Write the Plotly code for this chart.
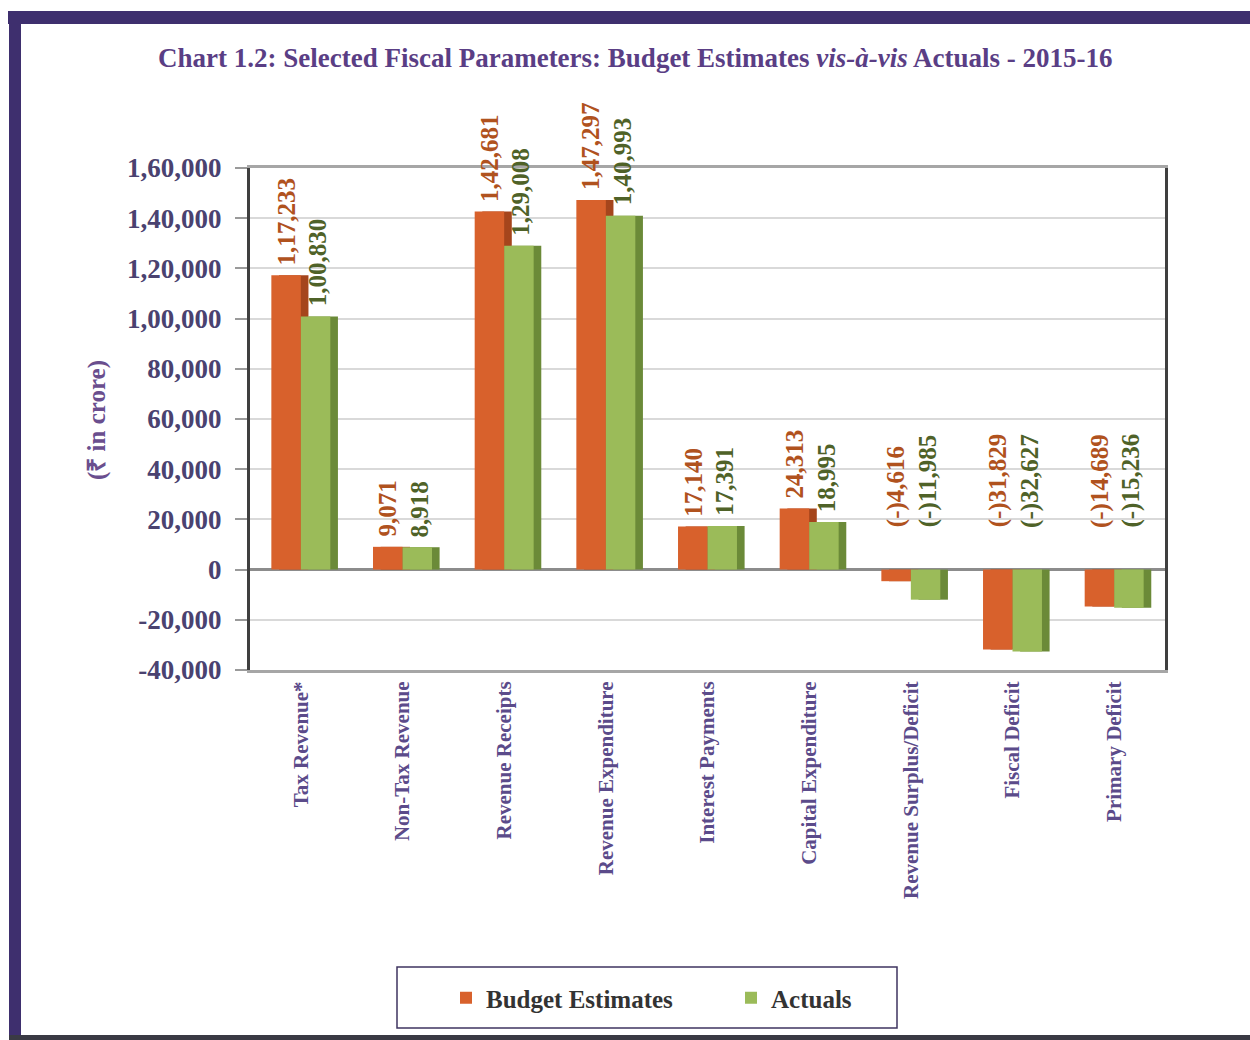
import plotly.graph_objects as go

# ---- data (₹ in crore) ----
categories = [
    "Tax Revenue*", "Non-Tax Revenue", "Revenue Receipts", "Revenue Expenditure",
    "Interest Payments", "Capital Expenditure", "Revenue Surplus/Deficit",
    "Fiscal Deficit", "Primary Deficit",
]
budget_estimates = [117233, 9071, 142681, 147297, 17140, 24313, -4616, -31829, -14689]
actuals = [100830, 8918, 129008, 140993, 17391, 18995, -11985, -32627, -15236]
y_tick_values = [-40000, -20000, 0, 20000, 40000, 60000, 80000, 100000, 120000, 140000, 160000]

# ---- page geometry (px) ----
W, H = 1250, 1040
L, R, T, B = 250, 85, 168, 370
PW, PH = W - L - R, H - T - B

BUDGET_FACE, BUDGET_SIDE, BUDGET_TEXT = "#D8612C", "#A5451C", "#B0521E"
ACTUAL_FACE, ACTUAL_SIDE, ACTUAL_TEXT = "#9BBB59", "#6B8A38", "#4F6228"
SERIF = "Liberation Serif, Times New Roman, serif"


def indian(n):
    """Group digits the Indian way: 1,47,297."""
    s = str(abs(int(n)))
    if len(s) > 3:
        head, tail = s[:-3], s[-3:]
        parts = []
        while len(head) > 2:
            parts.insert(0, head[-2:])
            head = head[:-2]
        if head:
            parts.insert(0, head)
        s = ",".join(parts) + "," + tail
    return s


def value_label(n):
    return "(-)" + indian(n) if n < 0 else indian(n)


def tick_label(n):
    return ("-" if n < 0 else "") + indian(n)


def px_x(px):
    return (px - L) / PW


def px_y(py):
    return (H - B - py) / PH


BAR_W = 0.29
DEPTH = 0.075

fig = go.Figure()
# darker side faces sit behind each front face to give the bars some depth
for name, vals, face, side, off in [
    ("Budget Estimates", budget_estimates, BUDGET_FACE, BUDGET_SIDE, -BAR_W),
    ("Actuals", actuals, ACTUAL_FACE, ACTUAL_SIDE, 0.0),
]:
    fig.add_trace(go.Bar(
        x=categories, y=vals, width=BAR_W, offset=off + DEPTH,
        marker=dict(color=side, line=dict(width=0)),
        showlegend=False, hoverinfo="skip",
    ))
    fig.add_trace(go.Bar(
        x=categories, y=vals, width=BAR_W, offset=off, name=name,
        marker=dict(color=face, line=dict(width=0)),
    ))

# rotated value labels above each bar (negative values are labelled above zero)
annotations = []
for i, cat in enumerate(categories):
    for vals, color, shift in [
        (budget_estimates, BUDGET_TEXT, -BAR_W / 2),
        (actuals, ACTUAL_TEXT, BAR_W / 2 + 0.02),
    ]:
        v = vals[i]
        annotations.append(dict(
            x=i + shift, y=max(v, 0), xref="x", yref="y",
            text=value_label(v), textangle=-90, showarrow=False,
            xanchor="center", yanchor="bottom",
            yshift=8 if v >= 0 else 40,
            font=dict(family=SERIF, size=25, color=color, weight="bold"),
        ))

annotations.append(dict(
    text="Chart 1.2: Selected Fiscal Parameters: Budget Estimates <i>vis-à-vis</i> Actuals - 2015-16",
    xref="paper", yref="paper", x=px_x(635), y=px_y(58),
    xanchor="center", yanchor="middle", showarrow=False,
    font=dict(family=SERIF, size=27, color="#5A3E85", weight="bold"),
))
annotations.append(dict(
    text="(₹ in crore)", textangle=-90,
    xref="paper", yref="paper", x=px_x(97), y=px_y(420),
    xanchor="center", yanchor="middle", showarrow=False,
    font=dict(family=SERIF, size=25, color="#6A4E8E", weight="bold"),
))

shapes = [
    # page frame
    dict(type="rect", xref="paper", yref="paper", x0=px_x(8), x1=px_x(1250),
         y0=px_y(24), y1=px_y(11), fillcolor="#3E2F6E", line=dict(width=0), layer="above"),
    dict(type="rect", xref="paper", yref="paper", x0=px_x(9), x1=px_x(21),
         y0=px_y(1040), y1=px_y(11), fillcolor="#3E2F6E", line=dict(width=0), layer="above"),
    dict(type="rect", xref="paper", yref="paper", x0=px_x(9), x1=px_x(1250),
         y0=px_y(1040), y1=px_y(1035), fillcolor="#3A3A44", line=dict(width=0), layer="above"),
    # legend box
    dict(type="rect", xref="paper", yref="paper", x0=px_x(397), x1=px_x(897),
         y0=px_y(1028), y1=px_y(967), fillcolor="rgba(0,0,0,0)",
         line=dict(color="#3F3560", width=1.5)),
]

fig.update_layout(
    width=W, height=H,
    margin=dict(l=L, r=R, t=T, b=B, pad=0),
    paper_bgcolor="white", plot_bgcolor="white",
    barmode="overlay",
    showlegend=True,
    legend=dict(
        orientation="h", x=px_x(446), y=px_y(998), xanchor="left", yanchor="middle",
        font=dict(family=SERIF, size=25, color="#333333", weight="bold"),
        bgcolor="rgba(0,0,0,0)", borderwidth=0, entrywidth=240, itemwidth=30,
    ),
    xaxis=dict(
        type="category", tickangle=-90,
        tickfont=dict(family=SERIF, size=21, color="#5B4B8A", weight="bold"),
        showline=True, linecolor="#A6A6A6", linewidth=3, mirror=True,
        ticks="", showgrid=False, range=[-0.5, 8.5],
    ),
    yaxis=dict(
        range=[-40000, 160000],
        tickvals=y_tick_values, ticktext=[tick_label(v) for v in y_tick_values],
        tickfont=dict(family=SERIF, size=27, color="#4A4270", weight="bold"),
        ticks="outside", ticklen=12, tickcolor="#9A9A9A", tickwidth=2,
        ticklabelstandoff=8,
        showgrid=True, gridcolor="#D9D9D9", gridwidth=1.5,
        zeroline=True, zerolinecolor="#8C8C8C", zerolinewidth=2.5,
        showline=True, linecolor="#3F3F3F", linewidth=3, mirror=True,
    ),
    annotations=annotations,
    shapes=shapes,
)

fig.write_html("out.html")
